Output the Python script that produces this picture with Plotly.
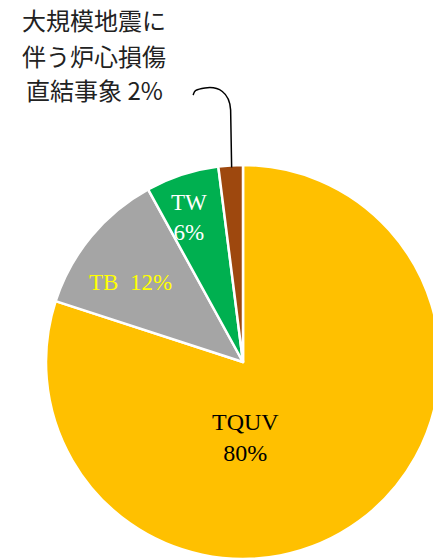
import math
import plotly.graph_objects as go

# ---- data ----
categories = ["TQUV", "TB", "TW", "大規模地震に伴う炉心損傷直結事象"]
values = [80, 12, 6, 2]
colors = ["#FFC000", "#A5A5A5", "#00B050", "#9E480E"]
label_texts = ["TQUV<br>80%", "TB  12%", "TW<br>6%"]
outside_label_lines = ["大規模地震に", "伴う炉心損傷", "直結事象 2%"]
label_colors = ["#000000", "#FFFF00", "#FFFFFF"]

# ---- figure geometry (px) ----
W, H = 450, 580
CX, CY, R = 243, 362, 197   # pie centre / radius in page pixels


def px(x):
    return x / W


def py(y):
    return 1 - y / H


fig = go.Figure(go.Pie(
    labels=categories,
    values=values,
    sort=False,
    direction="clockwise",
    rotation=0,
    marker=dict(colors=colors, line=dict(color="white", width=2.5)),
    textinfo="none",
    hoverinfo="label+percent",
    showlegend=False,
    domain=dict(x=[px(CX - R), px(CX + R)], y=[py(CY + R), py(CY - R)]),
))

serif = "Liberation Serif, Noto Sans CJK JP, serif"

# label positions (page px)
label_pos = [(246, 437), (130, 282), (189, 218)]
label_sizes = [24, 23, 23]
for i, (lx, ly) in enumerate(label_pos):
    fig.add_annotation(
        x=px(lx), y=py(ly), xref="paper", yref="paper",
        text=label_texts[i], showarrow=False, align="center",
        xanchor="center", yanchor="middle",
        font=dict(family=serif, size=label_sizes[i], color=label_colors[i]),
    )

# outside label of the small slice, one annotation per line
line_y = [19, 55, 90]
for txt, ly in zip(outside_label_lines, line_y):
    fig.add_annotation(
        x=px(94), y=py(ly), xref="paper", yref="paper",
        text=txt, showarrow=False, align="center",
        xanchor="center", yanchor="middle",
        font=dict(family="Noto Sans CJK JP, sans-serif", size=24, color="#222222"),
    )

# leader line from the middle of the small slice's arc
frac_before = sum(values[:3]) / sum(values)
mid = (frac_before + values[3] / sum(values) / 2) * 2 * math.pi
ax = CX + R * math.sin(mid)
ay = CY - R * math.cos(mid)
path = (f"M {px(ax + 1)},{py(ay + 2)} L {px(ax)},{py(110)} "
        f"C {px(ax - 1)},{py(92)} {px(218)},{py(86)} {px(205)},{py(88)} "
        f"S {px(195)},{py(92)} {px(193)},{py(95)}")
fig.add_shape(type="path", path=path, xref="paper", yref="paper",
              line=dict(color="black", width=1.5))

fig.update_layout(
    width=W, height=H,
    margin=dict(l=0, r=0, t=0, b=0),
    paper_bgcolor="white", plot_bgcolor="white",
)

fig.write_html(
    "out.html",
    config={"displayModeBar": False},
    post_script="document.body.style.margin='0';document.body.style.overflow='hidden';",
)
